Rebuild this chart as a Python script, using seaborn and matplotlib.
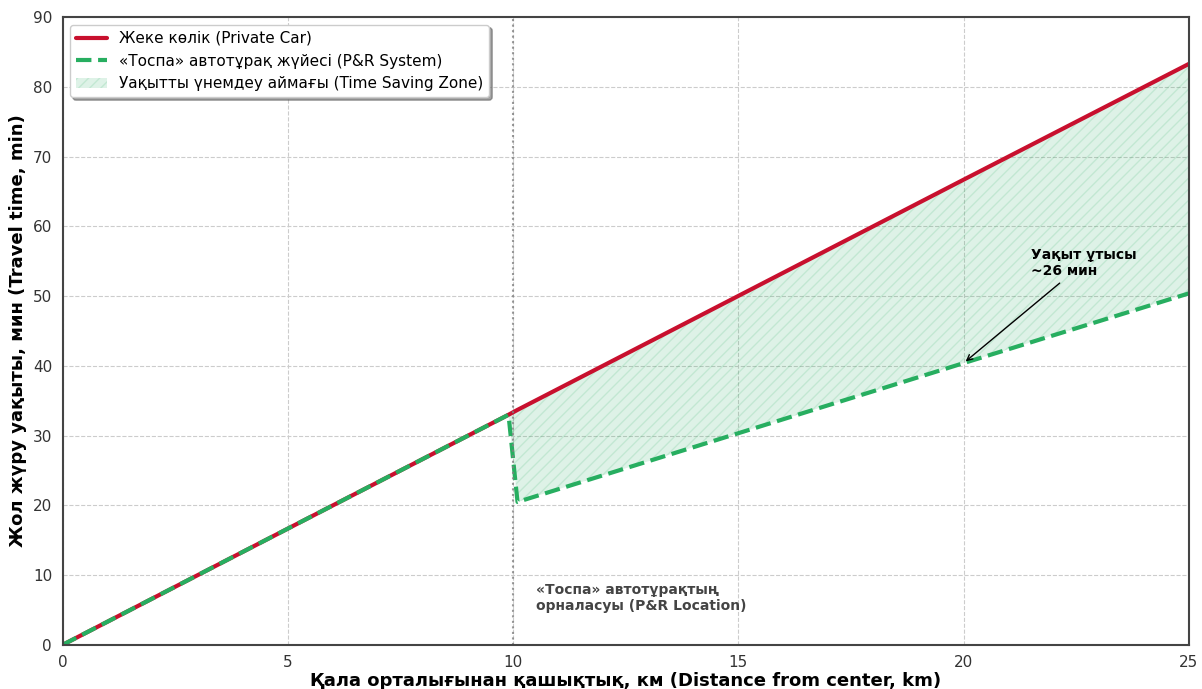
import seaborn as sns
import matplotlib.pyplot as plt
import pandas as pd

# values
distance_km = [0, 9.9, 10.1, 20, 25]
car_time = [0, 33.0, 33.7, 66.7, 83.3]
pr_time = [0, 33.0, 20.5, 40.4, 50.4]
pr_location_km = 10
saving_x, saving_y = 20, 40.4

df = pd.DataFrame({'dist': distance_km, 'car': car_time, 'pr': pr_time})

sns.set_style('white')
plt.rcParams['font.family'] = ['DejaVu Sans']

fig, ax = plt.subplots(figsize=(12.02, 6.89), dpi=100)
fig.subplots_adjust(left=0.052, right=0.989, top=0.975, bottom=0.064)

red = '#c8102e'
green = '#27ae60'

sns.lineplot(data=df, x='dist', y='car', ax=ax, color=red, linewidth=3,
             label='Жеке көлік (Private Car)')
sns.lineplot(data=df, x='dist', y='pr', ax=ax, color=green, linewidth=3,
             linestyle='--', label='«Тоспа» автотұрақ жүйесі (P&R System)')

ax.fill_between(df['dist'], df['car'], df['pr'], where=df['dist'] >= 9.9,
                facecolor=green, alpha=0.15, hatch='///', edgecolor=green, linewidth=0,
                label='Уақытты үнемдеу аймағы (Time Saving Zone)')

ax.axvline(pr_location_km, color='gray', linestyle=':', linewidth=1.5, alpha=0.8)

ax.annotate('Уақыт ұтысы\n~26 мин', xy=(saving_x, saving_y), xytext=(21.5, 52.6),
            ha='left', va='bottom', fontsize=10, fontweight='bold', color='black',
            arrowprops=dict(arrowstyle='->', color='black', lw=1))
ax.text(10.5, 4.6, '«Тоспа» автотұрақтың\nорналасуы (P&R Location)', fontsize=10,
        fontweight='bold', color='#444444', ha='left', va='bottom')

ax.set_xlim(0, 25)
ax.set_ylim(0, 90)
ax.set_xlabel('Қала орталығынан қашықтық, км (Distance from center, km)',
              fontsize=13, fontweight='bold', color='black', labelpad=1)
ax.set_ylabel('Жол жүру уақыты, мин (Travel time, min)', fontsize=13,
              fontweight='bold', color='black')
ax.tick_params(labelsize=11, colors='#333333', length=4, width=1)
ax.grid(True, linestyle='--', color='#cccccc', linewidth=0.8)
for s in ax.spines.values():
    s.set_color('#444444')
    s.set_linewidth(1.5)

ax.legend(loc='upper left', fontsize=11, frameon=True, shadow=True,
          fancybox=True, framealpha=1, labelcolor='black')

plt.savefig('out.png', dpi=100)
